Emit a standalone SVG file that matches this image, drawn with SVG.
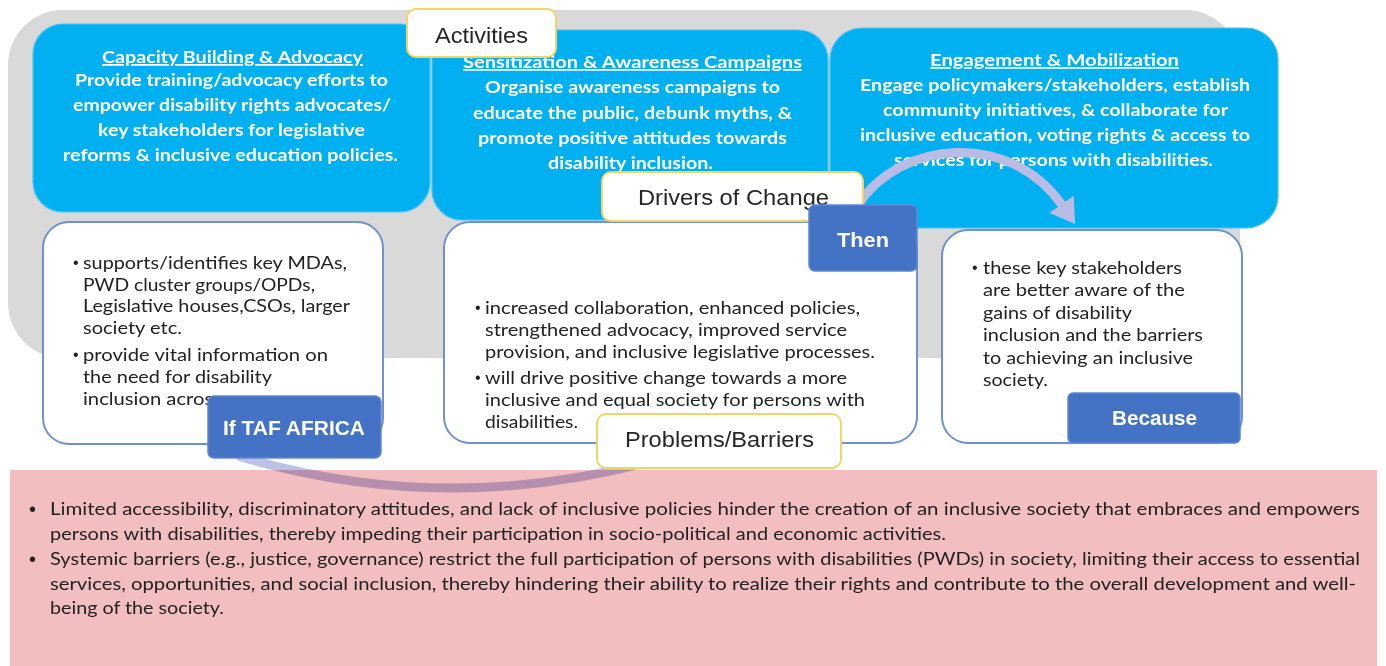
<svg xmlns="http://www.w3.org/2000/svg" width="1386" height="666" viewBox="0 0 1386 666">
<style>
.bg{fill:#D9D9D9}
.act{fill:#00B0F0;stroke:#4CC3F2;stroke-width:1.2}
.wbox{fill:#FFFFFF;stroke:#7090CE;stroke-width:2}
.lbl{fill:#FFFFFD;stroke:#F2D468;stroke-width:2}
.tag{fill:#4472C4;stroke:#5E88D4;stroke-width:1.5}
.pink{fill:#F3BEC0}
.wt{font-family:Lato,"Liberation Sans",sans-serif;font-weight:700;font-size:17.5px;fill:#FFFFFF}
.ttl{text-decoration:underline}
.bt{font-family:Lato,"Liberation Sans",sans-serif;font-size:18px;fill:#222222}
.pt{font-family:Lato,"Liberation Sans",sans-serif;font-size:17.5px;fill:#222222}
.bul{font-family:"Liberation Sans",sans-serif;font-size:16px;fill:#222222}
.pbul{font-family:"Liberation Sans",sans-serif;font-size:20px;fill:#222222}
.lt{font-family:"Liberation Sans",Arial,sans-serif;font-size:22px;fill:#262626}
.tt{font-family:"Liberation Sans",Arial,sans-serif;font-weight:700;font-size:21px;fill:#FFFFFF}
.arc{fill:none;stroke:#B9BCE4;stroke-width:9}
</style>
<defs>
<marker id="ah" viewBox="0 0 24 30" refX="1" refY="15" markerWidth="24" markerHeight="30" markerUnits="userSpaceOnUse" orient="auto">
<path d="M0,0 L24,15 L0,30 z" fill="#B9BCE4"/>
</marker>
</defs>

<rect id="background" class="bg" x="8" y="10" width="1232" height="348" rx="55"/>

<g id="activity-capacity">
<rect class="act" x="33" y="24" width="397" height="188" rx="30"/>
<text class="wt ttl" x="102" y="63" textLength="261" lengthAdjust="spacingAndGlyphs">Capacity Building &amp; Advocacy</text>
<text class="wt" x="75" y="86" textLength="313" lengthAdjust="spacingAndGlyphs">Provide training/advocacy efforts to</text>
<text class="wt" x="73" y="111" textLength="318" lengthAdjust="spacingAndGlyphs">empower disability rights advocates/</text>
<text class="wt" x="98" y="136" textLength="267" lengthAdjust="spacingAndGlyphs">key stakeholders for legislative</text>
<text class="wt" x="63" y="161" textLength="335" lengthAdjust="spacingAndGlyphs">reforms &amp; inclusive education policies.</text>
</g>

<g id="activity-sensitization">
<rect class="act" x="432" y="30" width="396" height="190" rx="30"/>
<text class="wt ttl" x="463" y="68" textLength="339" lengthAdjust="spacingAndGlyphs">Sensitization &amp; Awareness Campaigns</text>
<text class="wt" x="485" y="93" textLength="295" lengthAdjust="spacingAndGlyphs">Organise awareness campaigns to</text>
<text class="wt" x="473" y="119" textLength="319" lengthAdjust="spacingAndGlyphs">educate the public, debunk myths, &amp;</text>
<text class="wt" x="478" y="144" textLength="309" lengthAdjust="spacingAndGlyphs">promote positive attitudes towards</text>
<text class="wt" x="548" y="169" textLength="165" lengthAdjust="spacingAndGlyphs">disability inclusion.</text>
</g>

<g id="activity-engagement">
<rect class="act" x="830" y="28" width="448" height="200" rx="32"/>
<text class="wt ttl" x="930" y="66" textLength="249" lengthAdjust="spacingAndGlyphs">Engagement &amp; Mobilization</text>
<text class="wt" x="860" y="91" textLength="390" lengthAdjust="spacingAndGlyphs">Engage policymakers/stakeholders, establish</text>
<text class="wt" x="883" y="116" textLength="345" lengthAdjust="spacingAndGlyphs">community initiatives, &amp; collaborate for</text>
<text class="wt" x="860" y="141" textLength="390" lengthAdjust="spacingAndGlyphs">inclusive education, voting rights &amp; access to</text>
<text class="wt" x="894" y="166" textLength="319" lengthAdjust="spacingAndGlyphs">services for persons with disabilities.</text>
</g>

<g id="if-box">
<rect class="wbox" x="43" y="222" width="340" height="222" rx="26"/>
<text class="bul" x="73" y="268">•</text>
<text class="bt" x="83" y="269" textLength="264" lengthAdjust="spacingAndGlyphs">supports/identifies key MDAs,</text>
<text class="bt" x="83" y="291" textLength="232" lengthAdjust="spacingAndGlyphs">PWD cluster groups/OPDs,</text>
<text class="bt" x="83" y="312" textLength="267" lengthAdjust="spacingAndGlyphs">Legislative houses,CSOs, larger</text>
<text class="bt" x="83" y="334" textLength="99" lengthAdjust="spacingAndGlyphs">society etc.</text>
<text class="bul" x="73" y="360">•</text>
<text class="bt" x="83" y="361" textLength="245" lengthAdjust="spacingAndGlyphs">provide vital information on</text>
<text class="bt" x="83" y="383" textLength="189" lengthAdjust="spacingAndGlyphs">the need for disability</text>
<text class="bt" x="83" y="405" textLength="139" lengthAdjust="spacingAndGlyphs">inclusion across</text>
</g>

<g id="then-box">
<rect class="wbox" x="444" y="222" width="473" height="221" rx="26"/>
<text class="bul" x="475" y="313">•</text>
<text class="bt" x="485" y="314" textLength="375" lengthAdjust="spacingAndGlyphs">increased collaboration, enhanced policies,</text>
<text class="bt" x="485" y="336" textLength="362" lengthAdjust="spacingAndGlyphs">strengthened advocacy, improved service</text>
<text class="bt" x="485" y="358" textLength="390" lengthAdjust="spacingAndGlyphs">provision, and inclusive legislative processes.</text>
<text class="bul" x="475" y="383">•</text>
<text class="bt" x="485" y="384" textLength="362" lengthAdjust="spacingAndGlyphs">will drive positive change towards a more</text>
<text class="bt" x="485" y="406" textLength="380" lengthAdjust="spacingAndGlyphs">inclusive and equal society for persons with</text>
<text class="bt" x="485" y="428" textLength="93" lengthAdjust="spacingAndGlyphs">disabilities.</text>
</g>

<g id="because-box">
<rect class="wbox" x="942" y="230" width="300" height="213" rx="26"/>
<text class="bul" x="972" y="273">•</text>
<text class="bt" x="983" y="274" textLength="199" lengthAdjust="spacingAndGlyphs">these key stakeholders</text>
<text class="bt" x="983" y="296" textLength="202" lengthAdjust="spacingAndGlyphs">are better aware of the</text>
<text class="bt" x="983" y="319" textLength="149" lengthAdjust="spacingAndGlyphs">gains of disability</text>
<text class="bt" x="983" y="341" textLength="220" lengthAdjust="spacingAndGlyphs">inclusion and the barriers</text>
<text class="bt" x="983" y="364" textLength="210" lengthAdjust="spacingAndGlyphs">to achieving an inclusive</text>
<text class="bt" x="983" y="386" textLength="65" lengthAdjust="spacingAndGlyphs">society.</text>
</g>

<g id="problems-panel">
<rect class="pink" x="10" y="470" width="1367" height="196"/>
<text class="pbul" x="29" y="516">•</text>
<text class="pt" x="50" y="515" textLength="1310" lengthAdjust="spacingAndGlyphs">Limited accessibility, discriminatory attitudes, and lack of inclusive policies hinder the creation of an inclusive society that embraces and empowers</text>
<text class="pt" x="50" y="540" textLength="896" lengthAdjust="spacingAndGlyphs">persons with disabilities, thereby impeding their participation in socio-political and economic activities.</text>
<text class="pbul" x="29" y="566">•</text>
<text class="pt" x="50" y="565" textLength="1310" lengthAdjust="spacingAndGlyphs">Systemic barriers (e.g., justice, governance) restrict the full participation of persons with disabilities (PWDs) in society, limiting their access to essential</text>
<text class="pt" x="50" y="590" textLength="1306" lengthAdjust="spacingAndGlyphs">services, opportunities, and social inclusion, thereby hindering their ability to realize their rights and contribute to the overall development and well-</text>
<text class="pt" x="50" y="614" textLength="174" lengthAdjust="spacingAndGlyphs">being of the society.</text>
</g>

<g id="connectors">
<path class="arc" d="M858 205 C900 140 1010 130 1062 205" marker-end="url(#ah)"/>
<path class="arc" d="M238 456 Q445 518 656 460" style="stroke:#BEC0E6;mix-blend-mode:multiply"/>
</g>

<g id="label-activities">
<rect class="lbl" x="407" y="9" width="149" height="48" rx="9"/>
<text class="lt" x="435" y="43" textLength="93" lengthAdjust="spacingAndGlyphs">Activities</text>
</g>

<g id="label-drivers">
<rect class="lbl" x="602" y="172" width="261" height="49" rx="9"/>
<text class="lt" x="638" y="205" textLength="191" lengthAdjust="spacingAndGlyphs">Drivers of Change</text>
</g>

<g id="label-problems">
<rect class="lbl" x="597" y="414" width="244" height="54" rx="9"/>
<text class="lt" x="625" y="447" textLength="189" lengthAdjust="spacingAndGlyphs">Problems/Barriers</text>
</g>

<g id="tag-then">
<rect class="tag" x="809" y="205" width="108" height="66" rx="6"/>
<text class="tt" x="837" y="247" textLength="52" lengthAdjust="spacingAndGlyphs">Then</text>
</g>

<g id="tag-if">
<rect class="tag" x="208" y="396" width="173" height="62" rx="6"/>
<text class="tt" x="223" y="435" textLength="142" lengthAdjust="spacingAndGlyphs">If TAF AFRICA</text>
</g>

<g id="tag-because">
<rect class="tag" x="1068" y="393" width="172" height="50" rx="5"/>
<text class="tt" x="1112" y="425" textLength="85" lengthAdjust="spacingAndGlyphs">Because</text>
</g>
</svg>
